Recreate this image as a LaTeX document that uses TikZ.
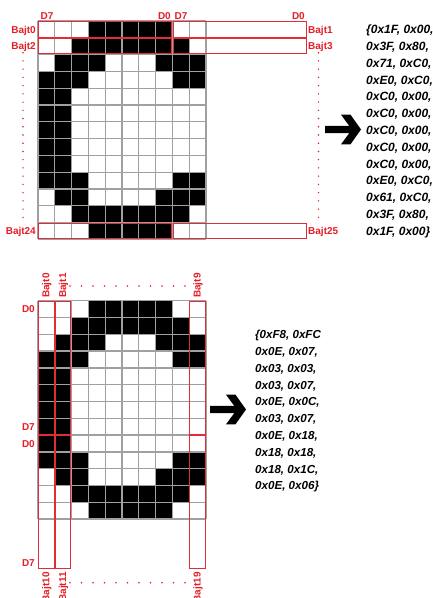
\documentclass[tikz,border=0pt]{standalone}
\usepackage{fontspec}
\setmainfont{Liberation Sans}
\definecolor{labred}{RGB}{230,30,40}
\definecolor{boxred}{RGB}{225,45,55}
\definecolor{gridgray}{RGB}{160,160,160}
\def\cs{16.8}
\tikzset{
  cellgrid/.style={draw=gridgray, line width=1.3pt},
  redbox/.style={draw=boxred, line width=1.1pt},
  lbl/.style={text=labred, font=\bfseries\fontsize{10}{12}\selectfont, inner sep=0pt},
  hexA/.style={font=\bfseries\itshape\fontsize{12}{14}\selectfont, inner sep=0pt, anchor=base west},
  hexB/.style={font=\bfseries\itshape\fontsize{11.6}{14}\selectfont, inner sep=0pt, anchor=base west},
  reddot/.style={fill=labred},
  bigarrow/.style={fill=black}
}
\newcommand\pixletter[2]{%
  \begin{scope}[shift={(#1,#2)}]
    \foreach \rr/\cols in {0/{3,4,5,6,7},1/{2,3,4,5,6,7,8},2/{1,2,3,7,8,9},3/{0,1,2,8,9},4/{0,1},5/{0,1},6/{0,1},7/{0,1},8/{0,1},9/{0,1,2,8,9},10/{1,2,7,8,9},11/{2,3,4,5,6,7,8},12/{3,4,5,6,7}}{
      \foreach \cc in \cols {\fill (\cc*\cs,\rr*\cs) rectangle ++(\cs,\cs);}
    }
    \foreach \k in {0,...,10} {\draw[cellgrid] (\k*\cs,0) -- (\k*\cs,13*\cs);}
    \foreach \k in {0,...,13} {\draw[cellgrid] (0,\k*\cs) -- (10*\cs,\k*\cs);}
  \end{scope}}
\newcommand\chevarrow[2]{%
  \fill[bigarrow,shift={(#1,#2)}] (-36,-3.6) -- (-11.7,-3.6) -- (-20,-14.8) -- (-10.5,-14.8) -- (0,0) -- (-10.5,14.8) -- (-20,14.8) -- (-11.7,3.6) -- (-36,3.6) -- cycle;}
\begin{document}
\begin{tikzpicture}[x=1pt,y=-1pt]
\useasboundingbox (0,0) rectangle (433,598);
\fill[white] (0,0) rectangle (433,598);
% ---------------- top ----------------
\pixletter{38}{21}
\foreach \r in {0,1,12}{
  \draw[redbox] (38.7,21+\r*\cs+0.7) rectangle (38+8*\cs-0.7,21+\r*\cs+\cs-0.7);
  \draw[redbox] (38+8*\cs+0.7,21+\r*\cs+0.7) rectangle (38+16*\cs-0.7,21+\r*\cs+\cs-0.7);
}
\node[lbl,anchor=base west] (td7a) at (40.5,19) {D7};
\node[lbl,anchor=base east] (td0a) at (171,19) {D0};
\node[lbl,anchor=base west] (td7b) at (174.5,19) {D7};
\node[lbl,anchor=base east] (td0b) at (305,19) {D0};
\node[lbl,anchor=base east] (tb0) at (36,33) {Bajt0};
\node[lbl,anchor=base east] (tb2) at (36,49.8) {Bajt2};
\node[lbl,anchor=base east] (tb24) at (36,234.6) {Bajt24};
\node[lbl,anchor=base west] (tb1) at (308,33) {Bajt1};
\node[lbl,anchor=base west] (tb3) at (308,49.8) {Bajt3};
\node[lbl,anchor=base west] (tb25) at (308,234.6) {Bajt25};
\foreach \k in {0,...,20}{
  \fill[reddot] (23,52.7+\k*8.23) circle (0.8);
  \fill[reddot] (318.5,52.7+\k*8.23) circle (0.8);
}
\chevarrow{361}{129.5}
\foreach \t [count=\i from 0] in {{\{0x1F, 0x00,},{0x3F, 0x80,},{0x71, 0xC0,},{0xE0, 0xC0,},{0xC0, 0x00,},{0xC0, 0x00,},{0xC0, 0x00,},{0xC0, 0x00,},{0xC0, 0x00,},{0xE0, 0xC0,},{0x61, 0xC0,},{0x3F, 0x80,},{0x1F, 0x00\}}}{
  \node[hexA] (th\i) at (366,29.4+\i*\cs+4.3) {\t};
}
% ---------------- bottom ----------------
\pixletter{38}{300.7}
\foreach \c in {0,1,9}{
  \draw[redbox] (38+\c*\cs+0.7,300.7+0.7) rectangle (38+\c*\cs+\cs-0.7,300.7+8*\cs-0.7);
  \draw[redbox] (38+\c*\cs+0.7,300.7+8*\cs+0.7) rectangle (38+\c*\cs+\cs-0.7,300.7+16*\cs-0.7);
}
\node[lbl,anchor=base east] (bd0a) at (35,312.7) {D0};
\node[lbl,anchor=base east] (bd7a) at (35,430.3) {D7};
\node[lbl,anchor=base east] (bd0b) at (35,447.1) {D0};
\node[lbl,anchor=base east] (bd7b) at (35,566.1) {D7};
\node[lbl,rotate=90,anchor=base west] (bb0) at (49.3,298) {Bajt0};
\node[lbl,rotate=90,anchor=base west] (bb1) at (66.1,298) {Bajt1};
\node[lbl,rotate=90,anchor=base west] (bb9) at (200.5,298) {Bajt9};
\node[lbl,rotate=90,anchor=base east] (bb10) at (49.3,572) {Bajt10};
\node[lbl,rotate=90,anchor=base east] (bb11) at (66.1,572) {Bajt11};
\node[lbl,rotate=90,anchor=base east] (bb19) at (200.5,572) {Bajt19};
\foreach \k in {0,...,10}{
  \fill[reddot] (70+\k*11.5,286) circle (0.8);
  \fill[reddot] (70+\k*11.5,582.7) circle (0.8);
}
\chevarrow{246}{409.5}
\foreach \t [count=\i from 0] in {{\{0xF8, 0xFC},{0x0E, 0x07,},{0x03, 0x03,},{0x03, 0x07,},{0x0E, 0x0C,},{0x03, 0x07,},{0x0E, 0x18,},{0x18, 0x18,},{0x18, 0x1C,},{0x0E, 0x06\}}}{
  \node[hexB] (bh\i) at (255,334.5+\i*\cs+4.2) {\t};
}
\end{tikzpicture}
\end{document}
